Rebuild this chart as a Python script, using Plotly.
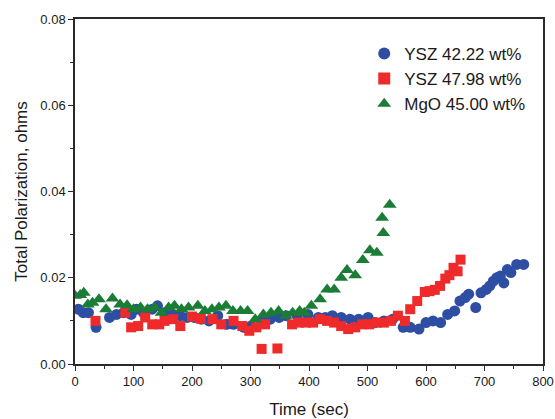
import plotly.graph_objects as go

# Polarization vs time for three electrolyte compositions
t_ysz42 = [6, 14, 23, 36, 59, 71, 83, 96, 105, 117,
           132, 141, 153, 168, 180, 192, 204, 216, 229, 244,
           259, 271, 289, 301, 319, 334, 349, 361, 380, 398,
           416, 428, 440, 455, 470, 485, 501, 513, 528, 543,
           561, 573, 588, 600, 612, 625, 637, 649, 658, 667,
           673, 685, 694, 703, 709, 715, 721, 727, 733, 739,
           745, 755, 767]
p_ysz42 = [0.0127, 0.0119, 0.0119, 0.0085, 0.0108, 0.0115, 0.0119, 0.0115, 0.0127, 0.0119,
           0.0127, 0.0135, 0.0119, 0.0115, 0.0112, 0.0108, 0.0108, 0.0104, 0.0100, 0.0112,
           0.0092, 0.0092, 0.0085, 0.0088, 0.0100, 0.0104, 0.0108, 0.0112, 0.0112, 0.0115,
           0.0108, 0.0108, 0.0112, 0.0108, 0.0104, 0.0104, 0.0108, 0.0096, 0.0100, 0.0104,
           0.0085, 0.0085, 0.0081, 0.0096, 0.0100, 0.0096, 0.0115, 0.0123, 0.0146, 0.0154,
           0.0162, 0.0131, 0.0165, 0.0173, 0.0181, 0.0192, 0.0200, 0.0204, 0.0188, 0.0219,
           0.0212, 0.0231, 0.0231]

t_ysz48 = [35, 86, 96, 108, 120, 132, 144, 153, 168, 180,
           200, 215, 235, 250, 271, 286, 298, 310, 319, 325,
           346, 371, 383, 395, 407, 419, 431, 443, 455, 467,
           479, 491, 503, 516, 528, 540, 552, 564, 573, 585,
           598, 606, 615, 624, 633, 640, 647, 654, 659]
p_ysz48 = [0.0100, 0.0119, 0.0085, 0.0088, 0.0108, 0.0092, 0.0092, 0.0100, 0.0104, 0.0088,
           0.0110, 0.0105, 0.0104, 0.0092, 0.0100, 0.0088, 0.0077, 0.0085, 0.0035, 0.0092,
           0.0036, 0.0092, 0.0096, 0.0096, 0.0096, 0.0104, 0.0100, 0.0096, 0.0088, 0.0081,
           0.0085, 0.0092, 0.0092, 0.0096, 0.0096, 0.0100, 0.0112, 0.0100, 0.0127, 0.0146,
           0.0167, 0.0169, 0.0172, 0.0181, 0.0198, 0.0206, 0.0223, 0.0215, 0.0242]

t_mgo45 = [0, 9, 15, 22, 30, 41, 53, 64, 77, 89,
           100, 112, 124, 136, 148, 160, 170, 182, 194, 210,
           222, 234, 246, 258, 270, 283, 295, 308, 322, 335,
           348, 360, 372, 384, 392, 404, 419, 431, 443, 455,
           465, 479, 492, 504, 516, 525, 527, 538]
p_mgo45 = [0.0158, 0.0160, 0.0165, 0.0138, 0.0142, 0.0150, 0.0127, 0.0152, 0.0138, 0.0136,
           0.0127, 0.0131, 0.0127, 0.0131, 0.0119, 0.0131, 0.0135, 0.0127, 0.0131, 0.0135,
           0.0123, 0.0127, 0.0131, 0.0135, 0.0123, 0.0123, 0.0123, 0.0104, 0.0115, 0.0119,
           0.0123, 0.0112, 0.0119, 0.0123, 0.0119, 0.0135, 0.0150, 0.0173, 0.0173, 0.0200,
           0.0218, 0.0206, 0.0241, 0.0264, 0.0258, 0.0339, 0.0304, 0.0369]

x_ticks = [0, 100, 200, 300, 400, 500, 600, 700, 800]
y_ticks = [0.00, 0.02, 0.04, 0.06, 0.08]

FONT = "Arial, 'Liberation Sans', sans-serif"
AXIS_COLOR = "#2a2a2a"
TEXT_COLOR = "#1a1a1a"

fig = go.Figure()
fig.add_trace(go.Scatter(
    x=t_ysz42, y=p_ysz42, mode="markers", name="YSZ 42.22 wt%",
    marker=dict(symbol="circle", size=11, color="#2d4ea3", line=dict(width=0)),
))
fig.add_trace(go.Scatter(
    x=t_ysz48, y=p_ysz48, mode="markers", name="YSZ 47.98 wt%",
    marker=dict(symbol="square", size=10, color="#ee2a2a", line=dict(width=0)),
))
fig.add_trace(go.Scatter(
    x=t_mgo45, y=p_mgo45, mode="markers", name="MgO 45.00 wt%",
    marker=dict(symbol="triangle-up", size=12, color="#1b7c36", line=dict(width=0)),
))

fig.update_layout(
    width=555, height=419,
    margin=dict(l=75, r=12, t=19, b=55),
    paper_bgcolor="white", plot_bgcolor="white",
    font=dict(family=FONT, color=TEXT_COLOR),
    showlegend=True,
    legend=dict(
        x=0.618, y=0.951, xanchor="left", yanchor="top",
        font=dict(size=17, family=FONT, color=TEXT_COLOR),
        bgcolor="rgba(0,0,0,0)", borderwidth=0,
        tracegroupgap=0, itemsizing="constant",
    ),
)

fig.update_xaxes(
    range=[0, 800], tickvals=x_ticks, ticktext=[str(v) for v in x_ticks],
    showgrid=False, zeroline=False, automargin=False,
    showline=True, linecolor=AXIS_COLOR, linewidth=1.5, mirror=True,
    ticks="outside", ticklen=5, tickwidth=1.2, tickcolor=AXIS_COLOR,
    minor=dict(ticks="outside", ticklen=3, tickwidth=1.2, tickcolor=AXIS_COLOR, dtick=50, showgrid=False),
    tickfont=dict(size=13, family=FONT, color=TEXT_COLOR),
    title=dict(text="Time (sec)", font=dict(size=17, family=FONT, color=TEXT_COLOR), standoff=20),
)
fig.update_yaxes(
    range=[0, 0.08], tickvals=y_ticks, ticktext=[f"{v:.2f}" for v in y_ticks],
    showgrid=False, zeroline=False, automargin=False,
    showline=True, linecolor=AXIS_COLOR, linewidth=1.5, mirror=True,
    ticks="outside", ticklen=5, tickwidth=1.2, tickcolor=AXIS_COLOR,
    minor=dict(ticks="outside", ticklen=3, tickwidth=1.2, tickcolor=AXIS_COLOR, dtick=0.01, showgrid=False),
    tickfont=dict(size=13, family=FONT, color=TEXT_COLOR),
    title=dict(text="Total Polarization, ohms", font=dict(size=17, family=FONT, color=TEXT_COLOR), standoff=8),
)

fig.write_html("out.html")
